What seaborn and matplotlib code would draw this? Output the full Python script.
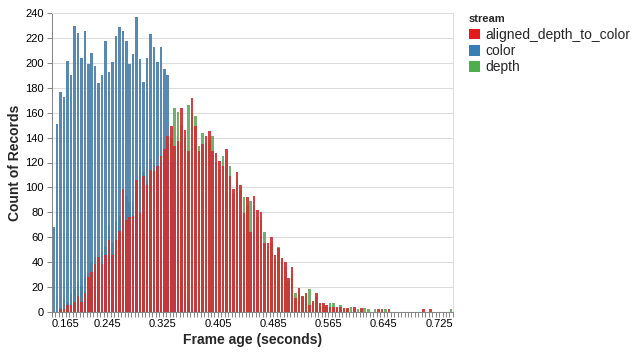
import numpy as np
import pandas as pd
import matplotlib
matplotlib.use("Agg")
import matplotlib.pyplot as plt
import seaborn as sns
from matplotlib.patches import Patch
from matplotlib.ticker import FixedLocator

# === data: counts per 0.005 s bin, first bin starts at 0.165 s ===============
bin_start = 0.165
bin_step = 0.005

color_counts = [68, 151, 177, 173, 202, 190, 230, 224, 204, 226,
                199, 208, 198, 184, 190, 218, 193, 201, 222, 229,
                226, 218, 199, 207, 237, 203, 185, 204, 223, 213,
                201, 213, 195, 190, 120, 80, 50, 30, 15, 8,
                4, 2, 1] + [0] * 73

aligned_counts = [0, 0, 2, 2, 5, 5, 8, 13, 8, 15,
                  28, 32, 38, 44, 38, 46, 58, 46, 58, 65,
                  99, 74, 76, 77, 106, 79, 109, 102, 114, 113,
                  117, 125, 131, 141, 149, 133, 137, 164, 146, 129,
                  172, 149, 129, 135, 141, 145, 129, 128, 121, 117,
                  131, 109, 99, 112, 102, 79, 92, 64, 93, 82,
                  80, 55, 55, 60, 46, 51, 43, 40, 27, 36,
                  11, 19, 13, 15, 5, 9, 15, 7, 7, 5,
                  4, 4, 4, 4, 3, 3, 0, 4, 0, 3,
                  0, 0, 0, 0, 2, 2, 0, 2, 0, 0,
                  0, 0, 0, 0, 0, 0, 0, 2, 0, 2,
                  0, 0, 0, 0, 0, 0]

depth_counts = [0, 0, 3, 10, 8, 15, 18, 24, 21, 28,
                31, 39, 44, 44, 48, 52, 70, 55, 73, 77,
                85, 93, 88, 88, 100, 117, 112, 106, 123, 119,
                115, 120, 128, 136, 140, 164, 161, 150, 140, 166,
                160, 157, 133, 144, 136, 138, 141, 120, 115, 125,
                122, 117, 95, 105, 98, 92, 85, 89, 85, 76,
                74, 64, 50, 55, 42, 52, 40, 36, 25, 30,
                15, 16, 12, 13, 18, 7, 12, 5, 5, 4,
                7, 7, 3, 5, 2, 2, 4, 2, 2, 2,
                3, 2, 0, 2, 0, 0, 2, 0, 0, 0,
                0, 0, 0, 0, 0, 0, 0, 0, 0, 0,
                0, 0, 0, 0, 0, 2]

streams = ["aligned_depth_to_color", "color", "depth"]
palette = {"aligned_depth_to_color": "#e41a1c", "color": "#377eb8", "depth": "#4daf4a"}
opacity = {"aligned_depth_to_color": 0.92, "color": 0.9, "depth": 0.85}
draw_order = ["depth", "color", "aligned_depth_to_color"]
tick_labels = ["0.165", "0.245", "0.325", "0.405", "0.485", "0.565", "0.645", "0.725"]

n_bins = len(color_counts)
edges = bin_start + bin_step * np.arange(n_bins + 1)
mids = np.round(edges[:-1] + bin_step / 2, 4)

df = pd.concat([
    pd.DataFrame({"frame_age": mids, "count": aligned_counts, "stream": "aligned_depth_to_color"}),
    pd.DataFrame({"frame_age": mids, "count": color_counts, "stream": "color"}),
    pd.DataFrame({"frame_age": mids, "count": depth_counts, "stream": "depth"}),
])

# === plot ====================================================================
sns.set_theme(style="white")
plt.rcParams['font.family'] = ['Liberation Sans', 'DejaVu Sans']

fig = plt.figure(figsize=(6.38, 3.52), dpi=100)
ax = fig.add_axes([52 / 638, 1 - 311.7 / 352, 400.9 / 638, 298.4 / 352])

for name in draw_order:
    sub = df[df["stream"] == name]
    sns.barplot(data=sub, x="frame_age", y="count", native_scale=True,
                color=palette[name], alpha=opacity[name], width=0.74,
                linewidth=0, errorbar=None, ax=ax)

ax.set_xlim(edges[0], edges[-1])
ax.set_ylim(0, 240)
ax.set_yticks(range(0, 241, 20))

ticks = [float(t) for t in tick_labels]
ax.set_xticks(ticks, labels=tick_labels)
ax.xaxis.set_minor_locator(FixedLocator(edges))
ax.get_xticklabels()[0].set_horizontalalignment("left")

ax.yaxis.grid(True, color="#dddddd", linewidth=0.75)
ax.xaxis.grid(False)
ax.set_axisbelow(True)
for side in ["left", "bottom"]:
    ax.spines[side].set_color("#888888")
    ax.spines[side].set_linewidth(0.75)
for side in ["top", "right"]:
    ax.spines[side].set_color("#dddddd")
    ax.spines[side].set_linewidth(0.75)

ax.tick_params(axis="both", which="both", length=3.6, width=0.75,
               color="#888888", labelsize=8, labelcolor="black")
ax.tick_params(axis="x", which="both", bottom=True, pad=2)
ax.tick_params(axis="y", which="both", left=True, pad=2.4)

ax.set_xlabel("Frame age (seconds)", fontsize=10, fontweight="bold")
ax.set_ylabel("Count of Records", fontsize=10, fontweight="bold")
ax.xaxis.set_label_coords(0.5, -0.072)
ax.yaxis.set_label_coords(-0.076, 0.5)

handles = [Patch(facecolor=palette[s], edgecolor="none") for s in streams]
leg = fig.legend(handles, streams, loc="upper left",
                 bbox_to_anchor=(469 / 638, 1 - 13.5 / 352),
                 frameon=False, title="stream", fontsize=10,
                 title_fontproperties={"weight": "bold", "size": 8},
                 handlelength=0.8, handleheight=0.8, handletextpad=0.4,
                 labelspacing=0.15, borderpad=0, borderaxespad=0)
leg._legend_box.align = "left"
leg._legend_box.sep = 3.2

plt.savefig("out.png", dpi=100)
